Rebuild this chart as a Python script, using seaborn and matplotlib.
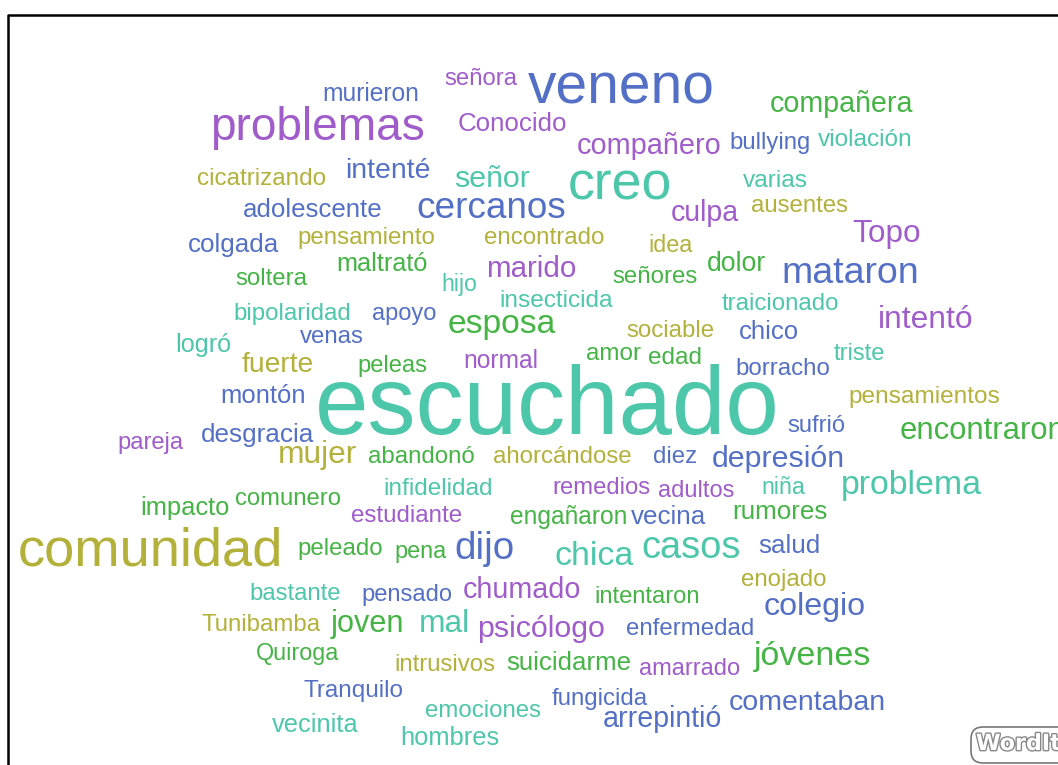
import matplotlib
matplotlib.use("Agg")
import matplotlib.pyplot as plt
import matplotlib.patheffects as pe
from matplotlib.patches import FancyBboxPatch
import seaborn as sns

# palabras del wordcloud y su grupo de color (0 morado, 1 azul, 2 turquesa, 3 oliva, 4 verde)
words = [
    "señora", "veneno", "murieron", "compañera", "problemas", "Conocido", "compañero",
    "bullying", "violación", "cicatrizando", "intenté", "señor", "creo", "varias",
    "adolescente", "cercanos", "ausentes", "culpa", "Topo", "colgada", "pensamiento",
    "encontrado", "idea", "soltera", "maltrató", "hijo", "marido", "señores", "dolor",
    "mataron", "bipolaridad", "apoyo", "insecticida", "esposa", "traicionado", "intentó",
    "logró", "venas", "sociable", "chico", "fuerte", "peleas", "normal", "amor", "edad",
    "triste", "borracho", "escuchado", "pensamientos", "montón", "sufrió", "encontraron",
    "pareja", "desgracia", "mujer", "abandonó", "ahorcándose", "diez", "depresión",
    "problema", "infidelidad", "remedios", "adultos", "niña", "impacto", "comunero",
    "estudiante", "engañaron", "vecina", "rumores", "comunidad", "peleado", "pena", "dijo",
    "chica", "casos", "salud", "bastante", "pensado", "chumado", "intentaron", "enojado",
    "colegio", "Tunibamba", "joven", "mal", "psicólogo", "enfermedad", "Quiroga",
    "intrusivos", "suicidarme", "amarrado", "jóvenes", "Tranquilo", "fungicida",
    "comentaban", "emociones", "arrepintió", "vecinita", "hombres",
]
tones = [
    0, 1, 1, 4, 0, 0, 0,
    1, 2, 3, 1, 2, 2, 2,
    1, 1, 3, 0, 0, 1, 3,
    3, 3, 4, 4, 2, 0, 4, 4,
    1, 2, 1, 2, 4, 2, 0,
    2, 1, 3, 1, 3, 4, 0, 4, 4,
    2, 1, 2, 3, 1, 1, 4,
    0, 1, 3, 4, 3, 1, 1,
    2, 2, 0, 0, 2, 4, 4,
    0, 4, 1, 4, 3, 4, 4, 1,
    2, 2, 1, 2, 1, 0, 4, 3,
    1, 3, 4, 2, 0, 1, 4,
    3, 4, 0, 4, 1, 1,
    1, 2, 1, 2, 2,
]

# ubicacion de cada palabra en pixeles: (izquierda, derecha, linea base)
layout = {
    "señora": (444, 517, 85), "veneno": (528, 714, 103), "murieron": (322, 419, 101),
    "compañera": (770, 913, 112), "problemas": (210, 424, 140), "Conocido": (458, 567, 131),
    "compañero": (577, 721, 154), "bullying": (729, 810, 149), "violación": (818, 913, 146),
    "cicatrizando": (197, 326, 185), "intenté": (345, 430, 178), "señor": (454, 530, 187),
    "creo": (568, 672, 199), "varias": (743, 808, 187), "adolescente": (243, 382, 217),
    "cercanos": (416, 565, 218), "ausentes": (751, 848, 212), "culpa": (671, 739, 221),
    "Topo": (852, 920, 242), "colgada": (188, 279, 252), "pensamiento": (297, 435, 244),
    "encontrado": (484, 604, 244), "idea": (648, 692, 252), "soltera": (235, 307, 285),
    "maltrató": (336, 427, 271), "hijo": (441, 477, 291), "marido": (486, 576, 277),
    "señores": (612, 697, 283), "dolor": (707, 766, 271), "mataron": (781, 918, 283),
    "bipolaridad": (233, 350, 320), "apoyo": (372, 436, 320), "insecticida": (499, 613, 307),
    "esposa": (448, 556, 333), "traicionado": (722, 839, 310), "intentó": (878, 973, 328),
    "logró": (175, 231, 352), "venas": (300, 364, 343), "sociable": (626, 714, 337),
    "chico": (739, 799, 339), "fuerte": (242, 314, 372), "peleas": (357, 427, 372),
    "normal": (463, 538, 368), "amor": (586, 641, 360), "edad": (648, 702, 364),
    "triste": (834, 885, 360), "borracho": (735, 830, 375), "escuchado": (315, 778, 434),
    "pensamientos": (848, 999, 403), "montón": (220, 305, 403), "sufrió": (787, 845, 432),
    "encontraron": (900, 1065, 439), "pareja": (117, 183, 449), "desgracia": (201, 314, 442),
    "mujer": (278, 357, 463), "abandonó": (368, 474, 463), "ahorcándose": (493, 631, 463),
    "diez": (653, 697, 463), "depresión": (712, 845, 467), "problema": (841, 982, 494),
    "infidelidad": (383, 493, 495), "remedios": (552, 650, 494), "adultos": (658, 734, 497),
    "niña": (761, 805, 494), "impacto": (140, 229, 515), "comunero": (235, 341, 505),
    "estudiante": (351, 462, 522), "engañaron": (510, 627, 524), "vecina": (631, 706, 524),
    "rumores": (732, 827, 519), "comunidad": (18, 283, 566), "peleado": (297, 382, 555),
    "pena": (394, 446, 558), "dijo": (454, 514, 559), "chica": (554, 633, 565),
    "casos": (641, 740, 558), "salud": (758, 820, 553), "bastante": (249, 340, 600),
    "pensado": (361, 452, 601), "chumado": (463, 581, 598), "intentaron": (594, 699, 603),
    "enojado": (741, 826, 586), "colegio": (764, 866, 615), "Tunibamba": (201, 320, 631),
    "joven": (331, 404, 632), "mal": (419, 470, 632), "psicólogo": (477, 605, 637),
    "enfermedad": (626, 754, 635), "Quiroga": (256, 339, 660), "intrusivos": (394, 495, 671),
    "suicidarme": (506, 631, 670), "amarrado": (639, 740, 675), "jóvenes": (754, 871, 665),
    "Tranquilo": (303, 403, 697), "fungicida": (552, 648, 705), "comentaban": (729, 885, 710),
    "emociones": (425, 541, 717), "arrepintió": (603, 722, 727), "vecinita": (272, 358, 732),
    "hombres": (400, 499, 745),
}

sns.set_theme(style="white")
palette = sns.color_palette(["#a05ccb", "#5470c6", "#4cc7aa", "#b3b13a", "#44b444"])
FONT = ["Liberation Sans", "DejaVu Sans"]

fig = plt.figure(figsize=(10.58, 7.65), dpi=100)
ax = fig.add_axes([0, 0, 1, 1])
ax.set_xlim(0, 1058)
ax.set_ylim(765, 0)
ax.axis("off")

renderer = fig.canvas.get_renderer()
for w, c in zip(words, tones):
    x0, x1, base = layout[w]
    t = ax.text(x0, base, w, fontsize=20, color=palette[c], ha="left",
                va="baseline", family=FONT)
    width = t.get_window_extent(renderer).width
    t.set_fontsize(20 * (x1 - x0) / width)

# marco
ax.plot([8, 8, 1060], [770, 15, 15], color="black", lw=1.8, solid_capstyle="butt")

# logo
box = FancyBboxPatch((971, 727), 120, 36, boxstyle="round,pad=0,rounding_size=12",
                     facecolor="white", edgecolor="#777777", lw=1.2)
ax.add_patch(box)
ax.text(976, 750, "WordItOut", fontsize=16, fontweight="bold", color="white",
        family=["DejaVu Sans"], ha="left", va="baseline",
        path_effects=[pe.withStroke(linewidth=2, foreground="#888888")])

fig.savefig("out.png", dpi=100)
